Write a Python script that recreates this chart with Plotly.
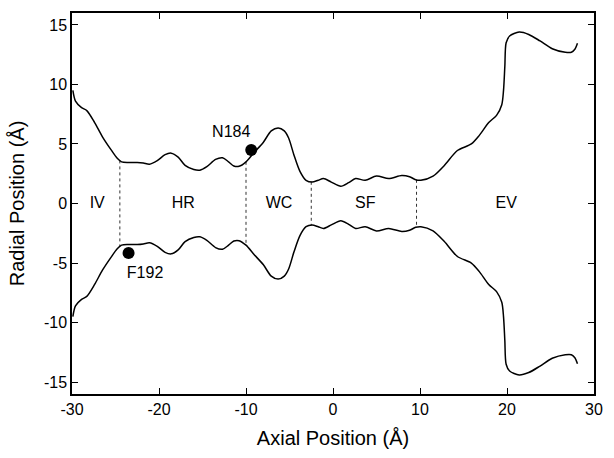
import numpy as np
import plotly.graph_objects as go

# Pore radius profile (upper wall); lower wall is its mirror image
axial = [-29.9, -29.6, -28.9, -28.3, -27.4, -26.5, -25.5, -24.8, -24.3, -23.5, -22.5, -21.8,
         -21.1, -20.2, -19.3, -18.6, -17.8, -17.0, -16.0, -15.3, -14.5, -13.5, -12.7, -12.0,
         -11.4, -10.8, -10.0, -9.1, -8.0, -7.1, -6.3, -5.6, -5.1, -4.5, -3.8, -3.1, -2.4,
         -1.7, -1.1, -0.2, 0.9, 1.8, 2.6, 3.7, 5.0, 6.4, 7.9, 8.8, 9.5, 10.1, 11.5, 12.8,
         14.3, 15.9, 16.8, 17.9, 18.8, 19.4, 19.6, 19.75, 19.9, 20.3, 21.4, 22.5, 23.8,
         25.2, 26.7, 27.4, 27.8, 28.1]
radius = [9.5, 8.6, 8.05, 7.8, 6.8, 5.6, 4.5, 3.8, 3.5, 3.45, 3.45, 3.4,
          3.3, 3.6, 4.1, 4.23, 3.9, 3.2, 2.85, 2.8, 3.1, 3.7, 3.84, 3.5,
          3.15, 3.12, 3.5, 4.26, 5.15, 6.1, 6.35, 6.1, 5.5, 4.1, 2.7, 1.95, 1.8,
          1.95, 2.1, 1.8, 1.45, 1.75, 2.1, 1.95, 2.3, 2.1, 2.35, 2.25, 2.0, 1.95, 2.3, 3.2,
          4.45, 5.0, 5.7, 6.8, 7.4, 8.3, 9.5, 11.5, 13.5, 14.07, 14.4, 14.2, 13.65,
          13.0, 12.7, 12.7, 12.95, 13.45]

boundaries = [-24.5, -10.0, -2.5, 9.6]
regions = ["IV", "HR", "WC", "SF", "EV"]
region_x = [-27.1, -17.2, -6.2, 3.7, 19.9]

residues = ["N184", "F192"]
res_x = [-9.4, -23.5]
res_y = [4.5, -4.15]
res_label_x = [-11.7, -21.6]
res_label_y = [5.9, -5.9]

ax = np.array(axial)
r = np.array(radius)
FONT = "Liberation Sans, Arial, sans-serif"

fig = go.Figure()

# region boundaries (dotted), spanning wall to wall
for b in boundaries:
    rb = float(np.interp(b, ax, r))
    fig.add_trace(go.Scatter(x=[b, b], y=[rb, -rb], mode="lines",
                             line=dict(color="#333333", width=1, dash="dot"),
                             showlegend=False, hoverinfo="skip"))

for sign in (1, -1):
    fig.add_trace(go.Scatter(x=ax, y=sign * r, mode="lines",
                             line=dict(color="black", width=1.5, shape="spline", smoothing=0.8),
                             showlegend=False))

fig.add_trace(go.Scatter(x=res_x, y=res_y, mode="markers",
                         marker=dict(color="black", size=12),
                         showlegend=False))

fig.add_trace(go.Scatter(x=region_x, y=[0] * len(regions), mode="text", text=regions,
                         textfont=dict(family=FONT, size=16, color="black"),
                         showlegend=False))
fig.add_trace(go.Scatter(x=res_label_x, y=res_label_y, mode="text", text=residues,
                         textfont=dict(family=FONT, size=16, color="black"),
                         showlegend=False))

axis_common = dict(showgrid=False, zeroline=False, showline=True, linecolor="black",
                   linewidth=1.5, mirror="allticks", ticks="inside", ticklen=6,
                   tickcolor="black", tickwidth=1,
                   tickfont=dict(family=FONT, size=16, color="black"))

fig.update_xaxes(range=[-30, 30], tickvals=[-30, -20, -10, 0, 10, 20, 30],
                 ticktext=["-30", "-20", "-10", "0", "10", "20", "30"],
                 title=dict(text="Axial Position (Å)", standoff=14,
                            font=dict(family=FONT, size=20, color="black")),
                 **axis_common)
fig.update_yaxes(range=[-16, 16], tickvals=[-15, -10, -5, 0, 5, 10, 15],
                 ticktext=["-15", "-10", "-5", "0", "5", "10", "15"],
                 title=dict(text="Radial Position (Å)", standoff=14,
                            font=dict(family=FONT, size=20, color="black")),
                 **axis_common)

fig.update_layout(width=614, height=458, margin=dict(l=72, r=12, t=11, b=64),
                  plot_bgcolor="white", paper_bgcolor="white")

fig.write_html("out.html")
